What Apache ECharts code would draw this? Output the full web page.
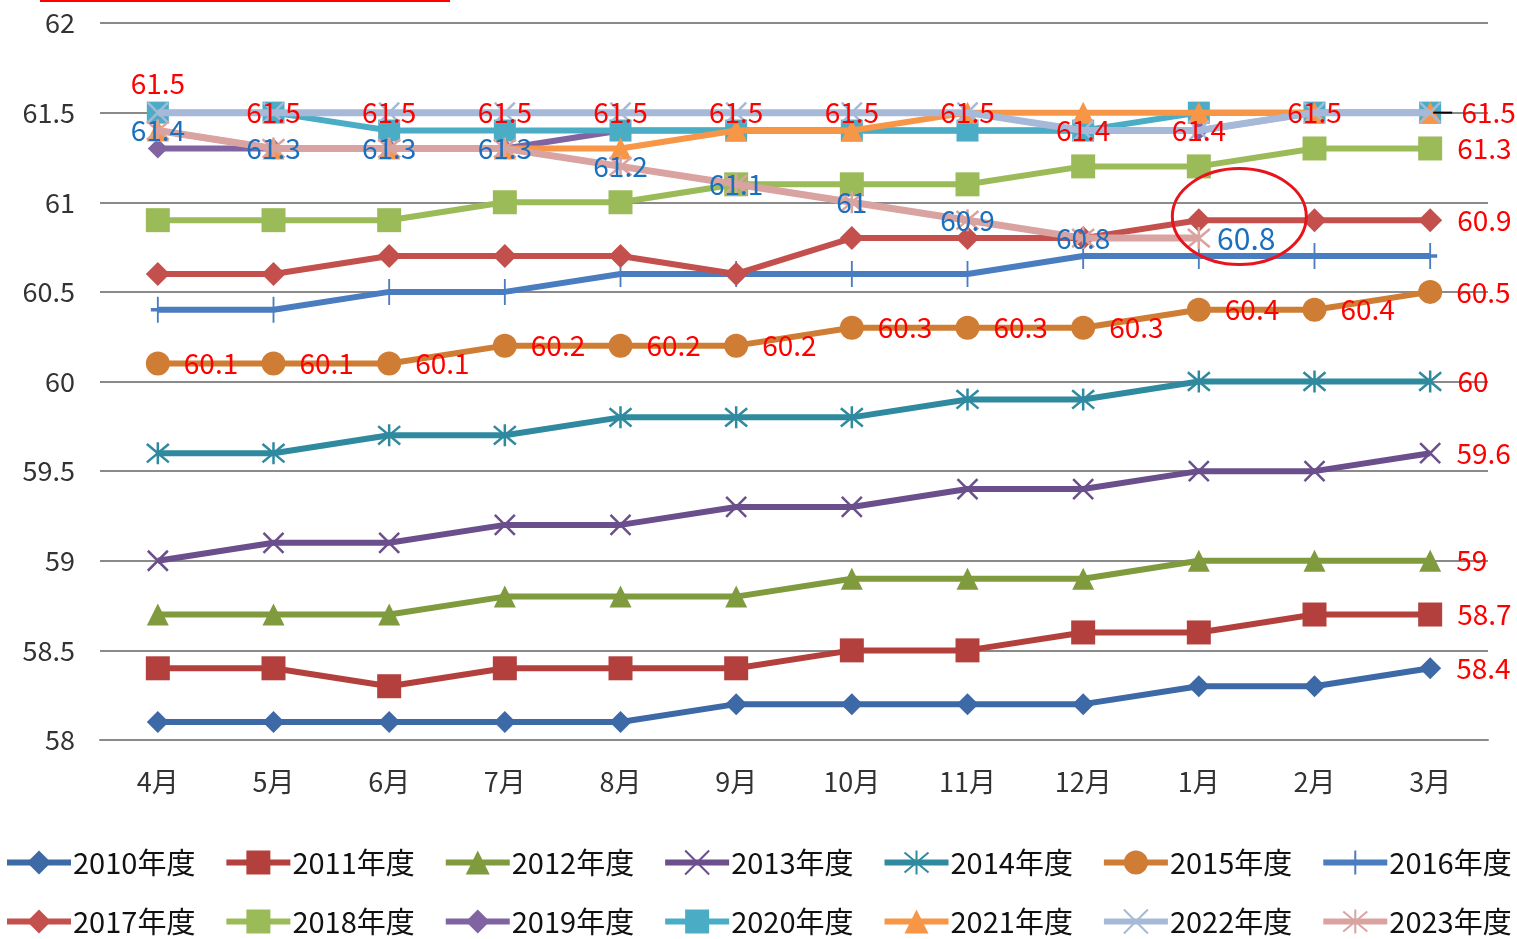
<!DOCTYPE html>
<html><head><meta charset="utf-8">
<script src="https://cdn.jsdelivr.net/npm/echarts@6/dist/echarts.min.js"></script>
<style>html,body{margin:0;padding:0;background:#fff}#c{width:1517px;height:939px}</style>
</head><body><div id="c"></div>
<script>
const months = ['4月','5月','6月','7月','8月','9月','10月','11月','12月','1月','2月','3月'];
const yMin = 58, yMax = 62, yStep = 0.5;

const names = ['2010年度','2011年度','2012年度','2013年度','2014年度','2015年度','2016年度',
               '2017年度','2018年度','2019年度','2020年度','2021年度','2022年度','2023年度'];
const v2010 = [58.1,58.1,58.1,58.1,58.1,58.2,58.2,58.2,58.2,58.3,58.3,58.4];
const v2011 = [58.4,58.4,58.3,58.4,58.4,58.4,58.5,58.5,58.6,58.6,58.7,58.7];
const v2012 = [58.7,58.7,58.7,58.8,58.8,58.8,58.9,58.9,58.9,59.0,59.0,59.0];
const v2013 = [59.0,59.1,59.1,59.2,59.2,59.3,59.3,59.4,59.4,59.5,59.5,59.6];
const v2014 = [59.6,59.6,59.7,59.7,59.8,59.8,59.8,59.9,59.9,60.0,60.0,60.0];
const v2015 = [60.1,60.1,60.1,60.2,60.2,60.2,60.3,60.3,60.3,60.4,60.4,60.5];
const v2016 = [60.4,60.4,60.5,60.5,60.6,60.6,60.6,60.6,60.7,60.7,60.7,60.7];
const v2017 = [60.6,60.6,60.7,60.7,60.7,60.6,60.8,60.8,60.8,60.9,60.9,60.9];
const v2018 = [60.9,60.9,60.9,61.0,61.0,61.1,61.1,61.1,61.2,61.2,61.3,61.3];
const v2019 = [61.3,61.3,61.3,61.3,61.4,61.4,61.4,61.4,61.4,61.4,61.5,61.5];
const v2020 = [61.5,61.5,61.4,61.4,61.4,61.4,61.4,61.4,61.4,61.5,61.5,61.5];
const v2021 = [61.4,61.3,61.3,61.3,61.3,61.4,61.4,61.5,61.5,61.5,61.5,61.5];
const v2022 = [61.5,61.5,61.5,61.5,61.5,61.5,61.5,61.5,61.4,61.4,61.5,61.5];
const v2023 = [61.4,61.3,61.3,61.3,61.2,61.1,61.0,60.9,60.8,60.8];

const values = [v2010,v2011,v2012,v2013,v2014,v2015,v2016,v2017,v2018,v2019,v2020,v2021,v2022,v2023];

const colors = ['#3d69a6','#b3403d','#7f9b3e','#6a4f8c','#2f8aa0','#cf7d35','#4a7cc0',
                '#c4504d','#9bbb59','#8064a2','#4bacc6','#f79646','#a6b9d8','#d9a3a2'];
const P_X = 'path://M0,0L10,10M10,0L0,10';
const P_AST = 'path://M0,0L10,10M10,0L0,10M5,-1L5,11';
const P_PLUS = 'path://M5,0L5,10M0,5L10,5';
const symbols = ['diamond','rect','triangle',P_X,P_AST,'circle',P_PLUS,
                 'diamond','rect','diamond','rect','triangle',P_X,P_AST];
const symSizes = [22,24,22,20,22,24,[14,26],24,24,20,22,22,20,22];
const strokeSym = [false,false,false,true,true,false,true,false,false,false,false,false,true,true];
const lineW = [6,6,6,6,6,6,6,6,6,6,6,6,7,7];

const RED = '#ff0000', BLUE = '#1a6fbe';
const FONT = 'Noto Sans CJK JP';
const endLabelSeries = [0,1,2,3,4,7,8];

function buildData(i) {
  const arr = values[i];
  return arr.map((v, k) => {
    const last = k === arr.length - 1;
    const item = { value: v };
    if (endLabelSeries.includes(i) && last) {
      item.label = { show: true, position: 'right', distance: 15, color: RED };
    } else if (i === 5) {
      item.label = { show: true, position: 'right', distance: 14, color: RED };
    } else if (i === 12) {
      item.label = { show: true, position: last ? 'right' : (k === 0 ? 'top' : 'inside'),
                     distance: last ? 20 : 4, color: RED };
    } else if (i === 13) {
      item.label = last
        ? { show: true, position: 'right', distance: 6, color: BLUE, fontSize: 30 }
        : { show: true, position: 'inside', color: BLUE };
    }
    return item;
  });
}

const series = names.map((n, i) => ({
  name: n,
  type: 'line',
  data: buildData(i),
  symbol: symbols[i],
  symbolSize: symSizes[i],
  showAllSymbol: true,
  lineStyle: { color: colors[i], width: lineW[i] },
  itemStyle: { color: colors[i], borderColor: colors[i], borderWidth: strokeSym[i] ? 2.5 : 0 },
  label: { show: false, fontFamily: FONT, fontSize: 28 },
  emphasis: { disabled: true },
  animation: false,
  z: 2 + i
}));

const chart = echarts.init(document.getElementById('c'));
const legendCommon = {
  left: 4, width: 1513, padding: 0, itemWidth: 64, itemHeight: 30, itemGap: 28,
  lineStyle: { width: 6 },
  textStyle: { fontFamily: FONT, fontSize: 29, color: '#111', padding: [0,0,0,-3] },
  selectedMode: false
};
chart.setOption({
  backgroundColor: '#fff',
  animation: false,
  grid: { left: 100, right: 29, top: 23, bottom: 199 },
  legend: [
    Object.assign({ top: 848, data: names.slice(0, 7) }, legendCommon),
    Object.assign({ top: 907, data: names.slice(7) }, legendCommon)
  ],
  xAxis: {
    type: 'category', data: months, boundaryGap: true,
    axisLine: { show: true, lineStyle: { color: '#8a8a8a', width: 2 } },
    axisTick: { show: false },
    axisLabel: { fontFamily: FONT, fontSize: 27, color: '#333', margin: 28 }
  },
  yAxis: {
    type: 'value', min: yMin, max: yMax, interval: yStep,
    axisLine: { show: false }, axisTick: { show: false },
    axisLabel: { fontFamily: FONT, fontSize: 27, color: '#333', margin: 25 },
    splitLine: { lineStyle: { color: '#8a8a8a', width: 2 } }
  },
  series: series
});

// annotations
const pA = chart.convertToPixel({ gridIndex: 0 }, ['1月', 60.92]);
const pB = chart.convertToPixel({ gridIndex: 0 }, ['2月', 60.92]);
const pEnd = chart.convertToPixel({ gridIndex: 0 }, ['3月', 61.5]);
chart.setOption({
  graphic: [
    { type: 'rect', shape: { x: 40, y: 0, width: 410, height: 2 }, style: { fill: '#ff0000' }, z: 100 },
    { type: 'ellipse', shape: { cx: pA[0] + (pB[0] - pA[0]) * 0.35, cy: pA[1], rx: 67, ry: 48 },
      style: { fill: 'none', stroke: '#e8141b', lineWidth: 3 }, z: 100 },
    { type: 'line', shape: { x1: pEnd[0] + 3, y1: pEnd[1], x2: pEnd[0] + 22, y2: pEnd[1] },
      style: { stroke: '#000', lineWidth: 2 }, z: 100 }
  ]
});
</script></body></html>
